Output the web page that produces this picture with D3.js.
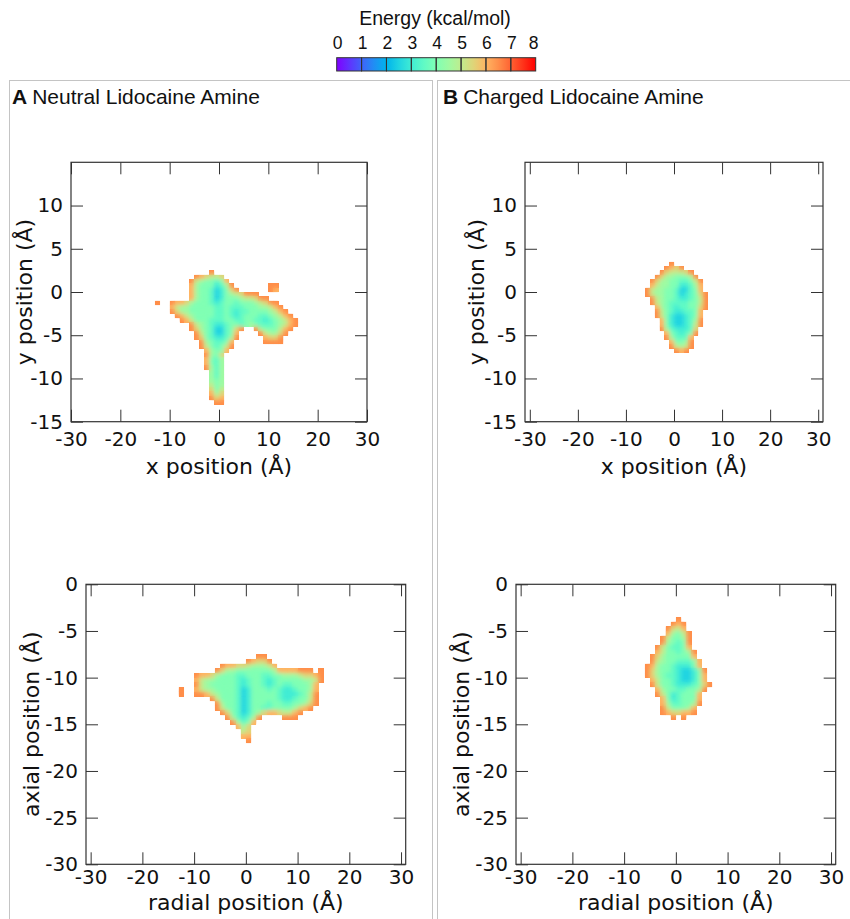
<!DOCTYPE html>
<html>
<head>
<meta charset="utf-8">
<script src="https://cdn.jsdelivr.net/npm/d3@7"></script>
<style>
  body { margin: 0; background: #fff; }
  svg { display: block; }
</style>
</head>
<body>
<svg width="850" height="919"></svg>
<script>
const energyTicks = [0, 1, 2, 3, 4, 5, 6, 7, 8];
const xTicks = [-30, -20, -10, 0, 10, 20, 30];
const xyTicksY = [-15, -10, -5, 0, 5, 10];
const axialTicksY = [-30, -25, -20, -15, -10, -5, 0];

// free energy grids, 1 A wide columns, 0.5 A tall rows going down from yTop
// each row: [x of first cell, codes]; code d -> 2 + 0.5*d kcal/mol, "." = no sample
const neutralXYTop = 2.5;
const neutralXY = [
  [-2, "9"],
  [-5, "987667"],
  [-6, "96544348"],
  [-6, "854442359.......99"],
  [-6, "8544312479......98"],
  [-6, "85443124567999"],
  [-6, "8544312444566799"],
  [-13, "9..9887544432344344456799"],
  [-10, "86554444433433344455689"],
  [-10, "975544444334323344445689"],
  [-9, "986544443343234443345689"],
  [-8, "986444333443344332345689"],
  [-6, "9654322344345433345689"],
  [-6, "97543113479..95444689"],
  [-5, "964311348....965579"],
  [-5, "974322359.....8779"],
  [-4, "9543348......9999"],
  [-4, "9643469"],
  [-3, "85448"],
  [-3, "9547"],
  [-3, "8435"],
  [-3, "8435"],
  [-3, "9535"],
  [-2, "535"],
  [-2, "535"],
  [-2, "545"],
  [-2, "645"],
  [-2, "746"],
  [-2, "857"],
  [-2, "978"],
  [-1, "99"]
];

const chargedXYTop = 3.5;
const chargedXY = [
  [-1, "9"],
  [-2, "9879"],
  [-3, "9766679"],
  [-4, "975544459"],
  [-5, "97554433469"],
  [-5, "86554422358"],
  [-6, "965544311348"],
  [-6, "9655443123479"],
  [-5, "965443223469"],
  [-5, "965433334469"],
  [-4, "85432334479"],
  [-4, "9643223348"],
  [-4, "9642112348"],
  [-3, "842112359"],
  [-3, "842112369"],
  [-3, "95322237"],
  [-2, "8432349"],
  [-2, "953338"],
  [-1, "84459"],
  [-1, "96569"],
  [0, "989"]
];

const neutralAxTop = -7.5;
const neutralAx = [
  [2, "99"],
  [0, "98779"],
  [-5, "98877655568"],
  [-6, "9755444444458888999.9"],
  [-10, "9887544433444334455567789"],
  [-10, "8655444432344323444445569"],
  [-10, "965444443234432343344458"],
  [-13, "9..865544443124443432234458"],
  [-13, "9..998654443124444432223469"],
  [-7, "964443124444432234469"],
  [-6, "95443124443443344579"],
  [-6, "9644312443344445789"],
  [-5, "9743124578876689"],
  [-4, "9532359....999"],
  [-3, "95348"],
  [-2, "857"],
  [-1, "67"],
  [-1, "88"],
  [0, "9"]
];

const chargedAxTop = -3.5;
const chargedAx = [
  [0, "9"],
  [-1, "989"],
  [-2, "9768"],
  [-2, "85469"],
  [-3, "964459"],
  [-3, "954349"],
  [-4, "9643348"],
  [-4, "86443459"],
  [-5, "975444448"],
  [-5, "9654433348"],
  [-6, "98544322248"],
  [-6, "975443211249"],
  [-6, "975433211248"],
  [-5, "86443211248"],
  [-5, "964432223479"],
  [-4, "8544334459"],
  [-4, "964234448"],
  [-3, "84234448"],
  [-3, "85334459"],
  [-3, "9644458"],
  [-3, "9877889"],
  [-1, "9.9"]
];

const svg = d3.select("svg");
const tickFont = "'DejaVu Sans', sans-serif";
const labelFont = "'Liberation Sans', Arial, sans-serif";

// matplotlib "rainbow" map
function rainbow(t) {
  const c = v => 255 * Math.max(0, Math.min(1, v));
  return d3.rgb(c(Math.abs(2 * t - 0.5)), c(Math.sin(Math.PI * t)), c(Math.cos(Math.PI * t / 2))).toString();
}
const color = d3.scaleSequential(rainbow).domain([0, 8]);

const defs = svg.append("defs");
defs.append("filter").attr("id", "soft")
  .attr("x", "-20%").attr("y", "-20%").attr("width", "140%").attr("height", "140%")
  .append("feGaussianBlur").attr("stdDeviation", 2.2);

// panel boxes and headers
svg.append("rect").attr("x", 9.5).attr("y", 80.5).attr("width", 423).attr("height", 860)
  .attr("fill", "none").attr("stroke", "#c4c4c4");
svg.append("rect").attr("x", 437.5).attr("y", 80.5).attr("width", 430).attr("height", 860)
  .attr("fill", "none").attr("stroke", "#c4c4c4");

const headers = [
  {x: 12, letter: "A", name: "Neutral Lidocaine Amine"},
  {x: 443, letter: "B", name: "Charged Lidocaine Amine"}
];
headers.forEach(h => {
  const t = svg.append("text").attr("x", h.x).attr("y", 104)
    .attr("font-family", labelFont).attr("font-size", 21).attr("fill", "#111");
  t.append("tspan").attr("font-weight", "bold").text(h.letter);
  t.append("tspan").attr("dx", 5).text(h.name);
});

// colour bar
const eScale = d3.scaleLinear().domain([0, 8]).range([336.7, 535.7]);
const grad = defs.append("linearGradient").attr("id", "ebar");
d3.range(0, 8.01, 0.5).forEach(v => {
  grad.append("stop").attr("offset", v / 8).attr("stop-color", color(v));
});
svg.append("rect").attr("x", eScale(0)).attr("y", 57.7)
  .attr("width", eScale(8) - eScale(0)).attr("height", 13.3).attr("fill", "url(#ebar)");
svg.append("g").selectAll("rect").data(energyTicks.slice(0, -1)).join("rect")
  .attr("x", d => eScale(d)).attr("y", 57.7)
  .attr("width", d => eScale(d + 1) - eScale(d)).attr("height", 13.3)
  .attr("fill", "none").attr("stroke", "#333").attr("stroke-width", 1);
svg.append("g").selectAll("text").data(energyTicks).join("text")
  .attr("x", d => eScale(d) + (d === 8 ? -2 : 1)).attr("y", 48.5)
  .attr("text-anchor", "middle").attr("font-family", labelFont).attr("font-size", 17.5)
  .attr("fill", "#111").text(d => d);
svg.append("text").attr("x", 435).attr("y", 25).attr("text-anchor", "middle")
  .attr("font-family", labelFont).attr("font-size", 19.5).attr("fill", "#111")
  .text("Energy (kcal/mol)");

const panels = [
  {id: "nxy", grid: neutralXY, yTop: neutralXYTop, frame: [71, 367, 162.3, 421.7], xd: [-30, 30], yd: [-15, 15],
   yTicks: xyTicksY, xTitle: "x position (Å)", yTitle: "y position (Å)", yTitleX: 32, xPad: 10.5, xTitleY: 474},
  {id: "cxy", grid: chargedXY, yTop: chargedXYTop, frame: [525, 823, 162.3, 421.7], xd: [-31, 31], yd: [-15, 15],
   yTicks: xyTicksY, xTitle: "x position (Å)", yTitle: "y position (Å)", yTitleX: 484, xPad: 10.5, xTitleY: 474},
  {id: "nax", grid: neutralAx, yTop: neutralAxTop, frame: [86, 405.7, 584.3, 864.3], xd: [-30.9, 30.9], yd: [-30, 0],
   yTicks: axialTicksY, xTitle: "radial position (Å)", yTitle: "axial position (Å)", yTitleX: 39, xPad: 6, xTitleY: 909.5},
  {id: "cax", grid: chargedAx, yTop: chargedAxTop, frame: [516, 835.7, 584.3, 864.3], xd: [-30.9, 30.9], yd: [-30, 0],
   yTicks: axialTicksY, xTitle: "radial position (Å)", yTitle: "axial position (Å)", yTitleX: 469, xPad: 6, xTitleY: 909.5}
];

panels.forEach(p => {
  const [l, r, t, b] = p.frame;
  const x = d3.scaleLinear().domain(p.xd).range([l, r]);
  const y = d3.scaleLinear().domain(p.yd).range([b, t]);
  const g = svg.append("g");

  const cells = [];
  p.grid.forEach((row, k) => {
    const [x0, codes] = row;
    [...codes].forEach((ch, i) => {
      if (ch !== ".") cells.push({x: x0 + i, y: p.yTop - k * 0.5, e: 2 + 0.5 * (+ch)});
    });
  });
  const cellRects = sel => sel.selectAll("rect").data(cells).join("rect")
    .attr("x", d => x(d.x))
    .attr("y", d => y(d.y))
    .attr("width", d => x(d.x + 1) - x(d.x) + 0.3)
    .attr("height", d => y(d.y - 0.5) - y(d.y) + 0.3)
    .attr("fill", d => color(d.e));

  // crisp cells below, smoothed copy on top clipped to the sampled area
  defs.append("clipPath").attr("id", "clip-" + p.id).call(cellRects);
  g.append("g").attr("shape-rendering", "crispEdges").call(cellRects);
  g.append("g").attr("clip-path", `url(#clip-${p.id})`)
    .append("g").attr("filter", "url(#soft)").call(cellRects);

  const tick = 12;
  const fmt = d => String(d);
  const style = sel => sel.attr("color", "#333").attr("font-size", 20).attr("font-family", tickFont)
    .call(s => s.select(".domain").remove())
    .call(s => s.selectAll("text").attr("fill", "#111"));

  g.append("g").attr("transform", `translate(0,${b})`)
    .call(d3.axisBottom(x).tickValues(xTicks).tickFormat(fmt).tickSize(-tick).tickSizeOuter(0).tickPadding(p.xPad))
    .call(style);
  g.append("g").attr("transform", `translate(0,${t})`)
    .call(d3.axisTop(x).tickValues(xTicks).tickSize(-tick).tickSizeOuter(0).tickFormat(""))
    .call(style);
  g.append("g").attr("transform", `translate(${l},0)`)
    .call(d3.axisLeft(y).tickValues(p.yTicks).tickFormat(fmt).tickSize(-tick).tickSizeOuter(0).tickPadding(8))
    .call(style);
  g.append("g").attr("transform", `translate(${r},0)`)
    .call(d3.axisRight(y).tickValues(p.yTicks).tickSize(-tick).tickSizeOuter(0).tickFormat(""))
    .call(style);

  g.append("rect").attr("x", l).attr("y", t).attr("width", r - l).attr("height", b - t)
    .attr("fill", "none").attr("stroke", "#333").attr("stroke-width", 1.2);

  g.append("text").attr("x", (l + r) / 2).attr("y", p.xTitleY).attr("text-anchor", "middle")
    .attr("font-family", tickFont).attr("font-size", 22).attr("fill", "#111").text(p.xTitle);
  g.append("text").attr("transform", `translate(${p.yTitleX},${(t + b) / 2}) rotate(-90)`)
    .attr("text-anchor", "middle").attr("font-family", tickFont).attr("font-size", 22)
    .attr("fill", "#111").text(p.yTitle);
});
</script>
</body>
</html>
